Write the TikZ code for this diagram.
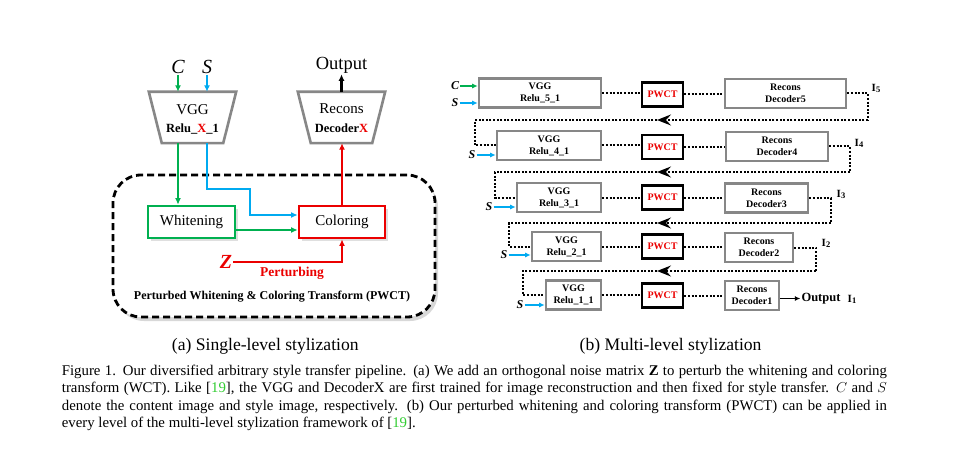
\documentclass[tikz,border=0pt]{standalone}
\usepackage{fontspec}
\setmainfont{Liberation Serif}
\usetikzlibrary{arrows.meta,shadows}
\definecolor{fgreen}{RGB}{0,176,80}
\definecolor{fblue}{RGB}{0,170,240}
\definecolor{fred}{RGB}{235,0,0}
\definecolor{fgray}{RGB}{135,135,135}
\definecolor{cgreen}{RGB}{50,205,50}
\begin{document}
\begin{tikzpicture}[x=1pt,y=-1pt,
  every node/.style={inner sep=1pt},
  arr/.style={line width=2.3pt,-{Latex[length=6.5pt,width=6pt]}},
  sarr/.style={line width=1.8pt,-{Latex[length=5.5pt,width=5pt]}},
  trapframe/.style={minimum width=87pt,minimum height=51pt,inner sep=0pt},
  trapline/.style={draw=fgray,line width=2.6pt,line join=miter},
  bigtxt/.style={anchor=base,font=\fontsize{15}{15}\selectfont},
  midtxt/.style={anchor=base,font=\fontsize{12.5}{12.5}\selectfont\bfseries},
  abox/.style={draw,line width=2.8pt,minimum width=87pt,minimum height=32pt,fill=white,font=\fontsize{15}{15}\selectfont,drop shadow={shadow xshift=2.5pt,shadow yshift=-2.5pt,opacity=0.25}},
  bbox/.style={draw=fgray,line width=2.6pt,minimum height=29pt,inner sep=0pt,align=center,font=\fontsize{10}{12}\selectfont\bfseries},
  pbox/.style={draw=black,line width=2.8pt,minimum width=41pt,minimum height=24pt,inner sep=0pt,text=fred,font=\fontsize{10}{12}\selectfont\bfseries},
  dotl/.style={line width=2pt,dash pattern=on 2pt off 1.6pt},
  midtip/.style={-{Stealth[length=14pt,width=11pt,inset=5pt]}},
  ilab/.style={font=\fontsize{11}{11}\selectfont\bfseries},
  bilab/.style={font=\fontsize{12}{12}\selectfont\bfseries\itshape},
  captxt/.style={anchor=base west,inner sep=0pt,font=\fontsize{14.8}{17.6}\selectfont},
  subcap/.style={inner sep=0pt,font=\fontsize{17.6}{18}\selectfont}
]
\fill[white] (0,0) rectangle (976,449);
\useasboundingbox (0,0) rectangle (976,449);

% ---------------- (a) ----------------
\node[draw,line width=2.8pt,dash pattern=on 7pt off 4pt,rounded corners=28pt,
      minimum width=322pt,minimum height=142pt,fill=white,
      drop shadow={shadow xshift=3pt,shadow yshift=-4pt,opacity=0.3}] (pwct) at (274,246) {};
\node[font=\fontsize{12}{12}\selectfont\bfseries] (ptitle) at (272,297) {Perturbed Whitening \& Coloring Transform (PWCT)};

\node[trapframe] (vgg) at (192.5,117.5) {};
\draw[trapline] (vgg.north west) -- (vgg.north east) -- ([xshift=-13pt]vgg.south east) -- ([xshift=13pt]vgg.south west) -- cycle;
\node[bigtxt] (vggA) at (192.5,115) {VGG};
\node[midtxt] (vggB) at (192.5,133) {Relu\_\textcolor{fred}{X}\_1};

\node[trapframe] (rec) at (341.5,117.5) {};
\draw[trapline] (rec.north west) -- (rec.north east) -- ([xshift=-13pt]rec.south east) -- ([xshift=13pt]rec.south west) -- cycle;
\node[bigtxt] (recA) at (341.5,114) {Recons};
\node[midtxt] (recB) at (341.5,133) {Decoder\textcolor{fred}{X}};

\node[font=\fontsize{20}{20}\selectfont\itshape] (ca) at (178,67) {C};
\node[font=\fontsize{20}{20}\selectfont\itshape] (sa) at (207,67) {S};
\node[font=\fontsize{18.5}{18.5}\selectfont] (outa) at (341.5,65) {Output};

\node[abox,draw=fgreen] (wh) at (191.5,222) {Whitening};
\node[abox,draw=fred,minimum width=86pt] (col) at (342,222) {Coloring};

\node[font=\fontsize{20}{20}\selectfont\bfseries\itshape,text=fred] (z) at (226,262) {Z};
\node[font=\fontsize{13.5}{13.5}\selectfont\bfseries,text=fred] (pert) at (292,273) {Perturbing};

\draw[arr,fgreen] (ca.south) -- (ca.south |- vgg.north);
\draw[arr,fblue] (sa.south) -- (sa.south |- vgg.north);
\draw[arr,fgreen] (ca |- vgg.south) -- (ca |- wh.north);
\coordinate (bl) at (250,189);
\draw[arr,fblue] (sa |- vgg.south) |- (bl) |- ([yshift=7pt]col.west);
\draw[arr,fgreen] ([yshift=-8pt]wh.east) -- ([yshift=-8pt]col.west);
\draw[arr,fred] (col.north) -- (col.north |- rec.south);
\draw[arr,fred] (z.east) -| (col.south);
\draw[arr,black] (rec.north) -- (rec.north |- outa.south);

% ---------------- (b) ----------------
\node[bbox,minimum width=122pt] (v1) at (540,93) {VGG\\Relu\_5\_1};
\node[pbox] (p1) at (662.5,94.5) {PWCT};
\node[bbox,minimum width=121pt] (r1) at (785.5,93.5) {Recons\\Decoder5};
\node[bbox,minimum width=104pt] (v2) at (549,145.5) {VGG\\Relu\_4\_1};
\node[pbox] (p2) at (662.5,147) {PWCT};
\node[bbox,minimum width=102pt] (r2) at (777,146.5) {Recons\\Decoder4};
\node[bbox,minimum width=84pt] (v3) at (559,197.5) {VGG\\Relu\_3\_1};
\node[pbox] (p3) at (662.5,197.5) {PWCT};
\node[bbox,minimum width=83pt] (r3) at (766.5,198) {Recons\\Decoder3};
\node[bbox,minimum width=69pt] (v4) at (566.5,246.5) {VGG\\Relu\_2\_1};
\node[pbox] (p4) at (662.5,246.5) {PWCT};
\node[bbox,minimum width=68pt] (r4) at (759,247.5) {Recons\\Decoder2};
\node[bbox,minimum width=55pt] (v5) at (573.5,295) {VGG\\Relu\_1\_1};
\node[pbox] (p5) at (662.5,295.5) {PWCT};
\node[bbox,minimum width=54pt] (r5) at (752,295.5) {Recons\\Decoder1};

\foreach \i in {1,...,5}{
  \draw[dotl] (v\i.east) -- (v\i.east -| p\i.west);
  \draw[dotl] (p\i.east) -- (p\i.east -| r\i.west);
}

\coordinate (b1) at (868,120); \coordinate (m1) at (657,120); \coordinate (c1) at (475,120);
\coordinate (b2) at (850,172); \coordinate (m2) at (657,172); \coordinate (c2) at (495,172);
\coordinate (b3) at (831,223); \coordinate (m3) at (657,223); \coordinate (c3) at (509,223);
\coordinate (b4) at (816,271); \coordinate (m4) at (657,271); \coordinate (c4) at (523,271);

\draw[dotl] (r1.east) -| (b1); \draw[dotl,midtip] (b1) -- (m1); \draw[dotl] (m1) -- (c1) |- (v2.west);
\draw[dotl] (r2.east) -| (b2); \draw[dotl,midtip] (b2) -- (m2); \draw[dotl] (m2) -- (c2) |- (v3.west);
\draw[dotl] (r3.east) -| (b3); \draw[dotl,midtip] (b3) -- (m3); \draw[dotl] (m3) -- (c3) |- (v4.west);
\draw[dotl] (r4.east) -| (b4); \draw[dotl,midtip] (b4) -- (m4); \draw[dotl] (m4) -- (c4) |- (v5.west);

\node[bilab] (cb) at (455,86) {C};
\draw[sarr,fgreen] (cb.east) -- (cb.east -| v1.west);
\node[bilab] (sb1) at (455,103) {S};
\node[bilab] (sb2) at (472,155) {S};
\node[bilab] (sb3) at (489,207) {S};
\node[bilab] (sb4) at (504,255) {S};
\node[bilab] (sb5) at (520,305) {S};
\foreach \i in {1,...,5}{
  \draw[sarr,fblue] (sb\i.east) -- (sb\i.east -| v\i.west);
}

\node[font=\fontsize{12.5}{12.5}\selectfont\bfseries] (outb) at (821,298.5) {Output};
\draw[sarr,black] (outb.west -| r5.east) -- (outb.west);

\node[ilab] (i5) at (876,88) {I\raisebox{-1pt}{\fontsize{8.5}{8.5}\selectfont 5}};
\node[ilab] (i4) at (859,143) {I\raisebox{-1pt}{\fontsize{8.5}{8.5}\selectfont 4}};
\node[ilab] (i3) at (841,194) {I\raisebox{-1pt}{\fontsize{8.5}{8.5}\selectfont 3}};
\node[ilab] (i2) at (826,243) {I\raisebox{-1pt}{\fontsize{8.5}{8.5}\selectfont 2}};
\node[ilab] (i1) at (852,299) {I\raisebox{-1pt}{\fontsize{8.5}{8.5}\selectfont 1}};

% ---------------- captions ----------------
\node[subcap,anchor=base west] (suba) at (171.7,350) {(a) Single-level stylization};
\node[subcap,anchor=base east] (subb) at (761.7,350) {(b) Multi-level stylization};

\node[captxt] (cap1) at (61.7,375) {\makebox[825pt][s]{Figure 1. Our diversified arbitrary style transfer pipeline. (a) We add an orthogonal noise matrix \textbf{Z} to perturb the whitening and coloring}};
\node[captxt] (cap2) at (61.7,392.7) {\makebox[825pt][s]{transform (WCT). Like [\textcolor{cgreen}{19}], the VGG and DecoderX are first trained for image reconstruction and then fixed for style transfer. $C$ and $S$}};
\node[captxt] (cap3) at (61.7,410.2) {\makebox[825pt][s]{denote the content image and style image, respectively. (b) Our perturbed whitening and coloring transform (PWCT) can be applied in}};
\node[captxt] (cap4) at (61.7,427.8) {every level of the multi-level stylization framework of [\textcolor{cgreen}{19}].};
\end{tikzpicture}
\end{document}
